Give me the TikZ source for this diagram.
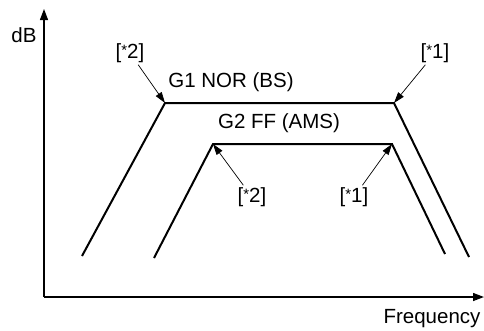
\documentclass[tikz,border=0pt]{standalone}
\usepackage{fontspec}
\setmainfont{Liberation Sans}
\usetikzlibrary{arrows.meta}
\newcommand{\myast}{\raisebox{0.12em}{\fontsize{15}{15}\selectfont *}}
\begin{document}
\begin{tikzpicture}[x=1pt,y=-1pt,
  lbl/.style={font=\fontsize{20.5}{24}\selectfont, inner sep=2pt},
  axis/.style={line width=1.3pt, -{Triangle[length=11pt,width=8pt]}},
  curve/.style={line width=2pt, line join=miter},
  pointer/.style={line width=0.7pt, -{Triangle[length=11pt,width=7pt]}}]
\useasboundingbox (0,0) rectangle (484,330);
% axes
\coordinate (origin) at (44,297);
\coordinate (ytop) at (44,9);
\coordinate (xend) at (484,297);
\draw[axis] (origin) -- (ytop);
\draw[axis] (origin) -- (xend);
\node[lbl] (dB) at (24,35) {dB};
\node[lbl] (freq) at (432,319) {Frequency};
% G1 trapezoid
\coordinate (g1bl) at (82,256);
\coordinate (g1tl) at (165,103);
\coordinate (g1tr) at (394,103);
\coordinate (g1br) at (469,257);
\draw[curve] (g1bl) -- (g1tl) -- (g1tr) -- (g1br);
% G2 trapezoid
\coordinate (g2bl) at (154,258);
\coordinate (g2tl) at (213,144);
\coordinate (g2tr) at (392,144);
\coordinate (g2br) at (445,254);
\draw[curve] (g2bl) -- (g2tl) -- (g2tr) -- (g2br);
% labels
\node[lbl] (g1) at (231,82) {G1 NOR (BS)};
\node[lbl] (g2) at (279,123) {G2 FF (AMS)};
\node[lbl] (a2) at (130,53) {[\myast2]};
\node[lbl] (a1) at (435,53) {[\myast1]};
\node[lbl] (b2) at (252,197) {[\myast2]};
\node[lbl] (b1) at (354,197) {[\myast1]};
% pointers
\draw[pointer] (a2) -- (g1tl);
\draw[pointer] (a1) -- (g1tr);
\draw[pointer] (b2) -- (g2tl);
\draw[pointer] (b1) -- (g2tr);
\end{tikzpicture}
\end{document}
